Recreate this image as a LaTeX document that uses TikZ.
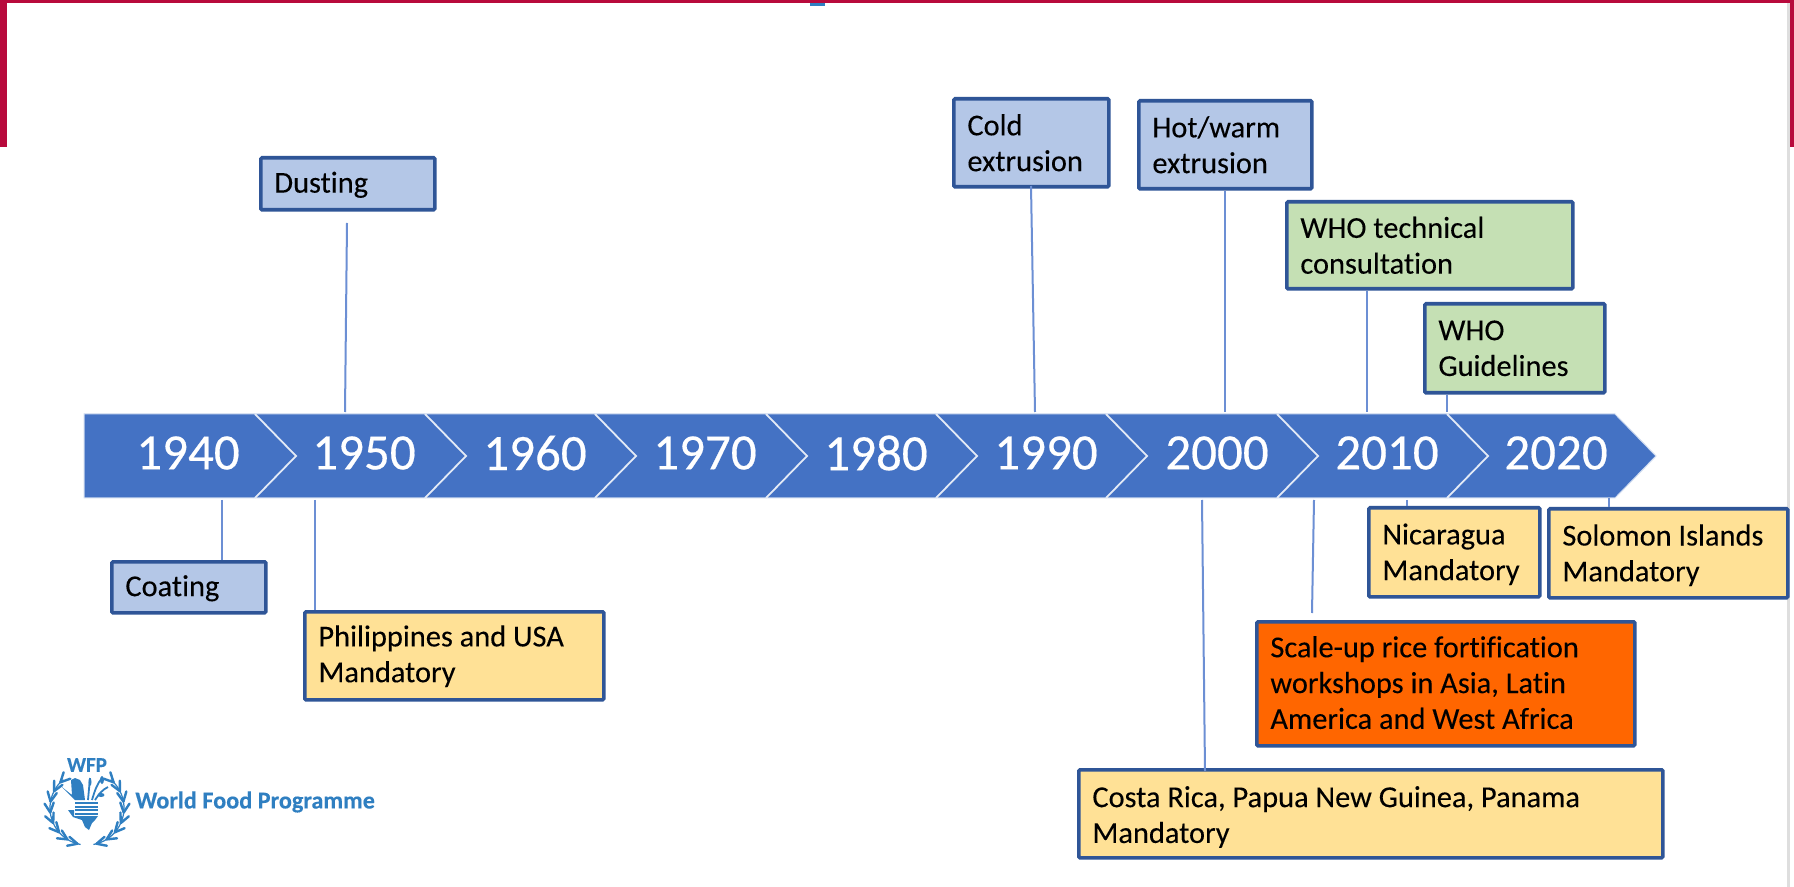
\documentclass[tikz,border=0pt]{standalone}
\usepackage{fontspec}
\setmainfont[Ligatures=CommonOff,FakeBold=0.12]{Carlito}
\newfontfamily\yearfont[FakeBold=0.35]{Carlito}
\newfontfamily\logofont[FakeBold=0.25]{Carlito}
\definecolor{crim}{HTML}{B80A3C}
\definecolor{chev}{HTML}{4472C4}
\definecolor{edge}{HTML}{2F5597}
\definecolor{linec}{HTML}{6C8FD4}
\definecolor{bluefill}{HTML}{B4C7E7}
\definecolor{greenfill}{HTML}{C5E0B4}
\definecolor{yellowfill}{HTML}{FFE196}
\definecolor{orangefill}{HTML}{FF6600}
\definecolor{wfp}{HTML}{2F7FC1}
\definecolor{greystrip}{HTML}{DEDEDE}
\tikzset{
  x=0.5pt,y=-0.5pt,
  box/.style={draw=edge,line width=1.8pt,rounded corners=0.6pt,inner sep=0pt,anchor=north west},
  boxtext/.style={anchor=west,inner sep=0pt,align=left,font=\fontsize{15.2}{17.9}\selectfont,text=black},
  conn/.style={draw=linec,line width=1pt},
  year/.style={text=white,font=\yearfont\fontsize{25.5}{25.5}\selectfont,inner sep=0pt},
  leafline/.style={draw=wfp,line width=1.2pt,line cap=round},
}
\newcommand{\boxat}[8][0]{% text shift (pt), name, x0,y0,x1,y1,fill,text
  \node[box,fill=#7,minimum width=(#5-#3)*0.5pt,minimum height=(#6-#4)*0.5pt] (#2) at ({#3-1},{#4-1}) {};
  \node[boxtext] (#2t) at ([xshift=7.5pt,yshift=#1pt]#2.west) {#8};
}
\begin{document}
\begin{tikzpicture}
\useasboundingbox (0,0) rectangle (1794,887);
\fill[white] (0,0) rectangle (1794,887);
% frame
\fill[greystrip] (1787,3) rectangle (1790,887);
\fill[wfp] (810,3) rectangle (825,6);
\fill[crim] (0,0) rectangle (1794,3.5);
\fill[crim] (0,0) rectangle (6.5,147);
\fill[crim] (1790,0) rectangle (1794,147);
% chevrons
\fill[chev,draw=white!75!chev,line width=0.5pt] (84,414) -- (1615,414) -- (1656,456) -- (1615,498) -- (84,498) -- cycle;
\foreach \t in {255,425,595,766,936,1106,1277,1447}{
  \draw[white!85!chev,line width=0.9pt] (\t,414) -- ({\t+41},456) -- (\t,498);
}
% years
\foreach \x/\y in {188/1940,364/1950,535/1960,705/1970,876/1980,1046/1990,1217/2000,1387/2010,1556/2020}{
  \node[year] (y\y) at (\x,453) {\y};
}
% boxes
\boxat[-0.5]{dust}{260}{157}{434}{209}{bluefill}{\raisebox{-1pt}{Dusting}}
\boxat[-0.5]{coat}{111}{561}{265}{612}{bluefill}{\raisebox{-0.5pt}{Coating}}
\boxat[0]{cold}{953}{98}{1108}{186}{bluefill}{Cold\\extrusion}
\boxat[0]{hot}{1138}{100}{1311}{188}{bluefill}{Hot/warm\\extrusion}
\boxat[0]{who}{1286}{201}{1572}{288}{greenfill}{WHO technical\\consultation}
\boxat[0]{guide}{1424}{303}{1604}{392}{greenfill}{WHO\\Guidelines}
\boxat[-0.2]{phil}{304}{611}{603}{699}{yellowfill}{Philippines and USA\\Mandatory}
\boxat[-1]{nica}{1368}{507}{1539}{596}{yellowfill}{Nicaragua\\Mandatory}
\boxat[-1]{solo}{1548}{508}{1787}{597}{yellowfill}{Solomon Islands\\Mandatory}
\boxat[0.6]{scale}{1256}{621}{1634}{745}{orangefill}{Scale-up rice fortification\\workshops in Asia, Latin\\America and West Africa}
\boxat[-1.6]{costa}{1078}{769}{1662}{857}{yellowfill}{Costa Rica, Papua New Guinea, Panama\\Mandatory}
% connector free ends
\coordinate (e1a) at (347,223); \coordinate (e1b) at (345,412);
\coordinate (e2b) at (1031,186); \coordinate (e2) at (1035,412);
\coordinate (e3) at (1225,412);
\coordinate (e4) at (1367,412);
\coordinate (e5) at (1447,412);
\coordinate (e6) at (222,500);
\coordinate (e7) at (315,500);
\coordinate (e8) at (1407,500);
\coordinate (e9) at (1609,498);
\coordinate (e10a) at (1314,500); \coordinate (e10b) at (1312,613);
\coordinate (e11) at (1202,500); \coordinate (e11b) at (1205,771);
\draw[conn] (e1a) -- (e1b);
\draw[conn] (e2b) -- (e2);
\draw[conn] (hot.south -| e3) -- (e3);
\draw[conn] (who.south -| e4) -- (e4);
\draw[conn] (guide.south -| e5) -- (e5);
\draw[conn] (e6) -- (coat.north -| e6);
\draw[conn] (e7) -- (phil.north -| e7);
\draw[conn] (e8) -- (nica.north -| e8);
\draw[conn] (e9) -- (solo.north -| e9);
\draw[conn] (e10a) -- (e10b);
\draw[conn] (e11) -- (e11b);
% logo
\begin{scope}[shift={(87,808)}]
  \node[text=wfp,font=\logofont\bfseries\fontsize{10.5}{11}\selectfont,inner sep=0pt] (wfpt) at (0,-43) {WFP};
  \foreach \s in {1,-1}{
    \begin{scope}[xscale=\s]
      \foreach \th in {165,148,131,114,97,80,63,46}{
        \draw[leafline] (\th-90:37) -- ++(\th+180+26:10.5);
        \draw[leafline] (\th-90:37) -- ++(\th+180-26:10.5);
      }
      \draw[wfp,line width=0.6pt] (170-90:37) arc[start angle=170-90,end angle=40-90,radius=37];
    \end{scope}
  }
  % hand
  \fill[wfp] (-25,-21) -- (-15,-13) -- (-16,-28) -- (-12,-30) -- (-7,-28) -- (-4,-23) -- (-2,-8) -- (-12,-8) -- cycle;
  % wheat
  \draw[wfp,line width=0.9pt] (1,-8) -- (3,-30);
  \draw[wfp,line width=0.9pt] (5,-8) .. controls (8,-18) and (10,-24) .. (15,-30);
  \draw[wfp,line width=0.9pt] (8,-8) .. controls (12,-14) and (15,-18) .. (21,-21);
  \fill[wfp] (15,-28) ellipse (2 and 4);
  \fill[wfp] (3,-26) ellipse (1.5 and 4);
  \fill[wfp] (14,-13) ellipse (3.5 and 2);
  % stripes
  \foreach \yy in {-6,-2.5,1,4.5}{\fill[wfp] (-12,\yy) rectangle (11,{\yy+2.2});}
  % lower body
  \fill[wfp] (-19,2) -- (-13,2) -- (-13,8) -- (11,8) -- (8,12) -- (5,15) -- (2,22) -- (-2,19) -- (-5,12) -- (-14,9) -- cycle;
\end{scope}
\node[anchor=west,text=wfp,inner sep=0pt,font=\logofont\bfseries\fontsize{12.1}{12}\selectfont] (wfpn) at (135,802) {World Food Programme};
\end{tikzpicture}
\end{document}
